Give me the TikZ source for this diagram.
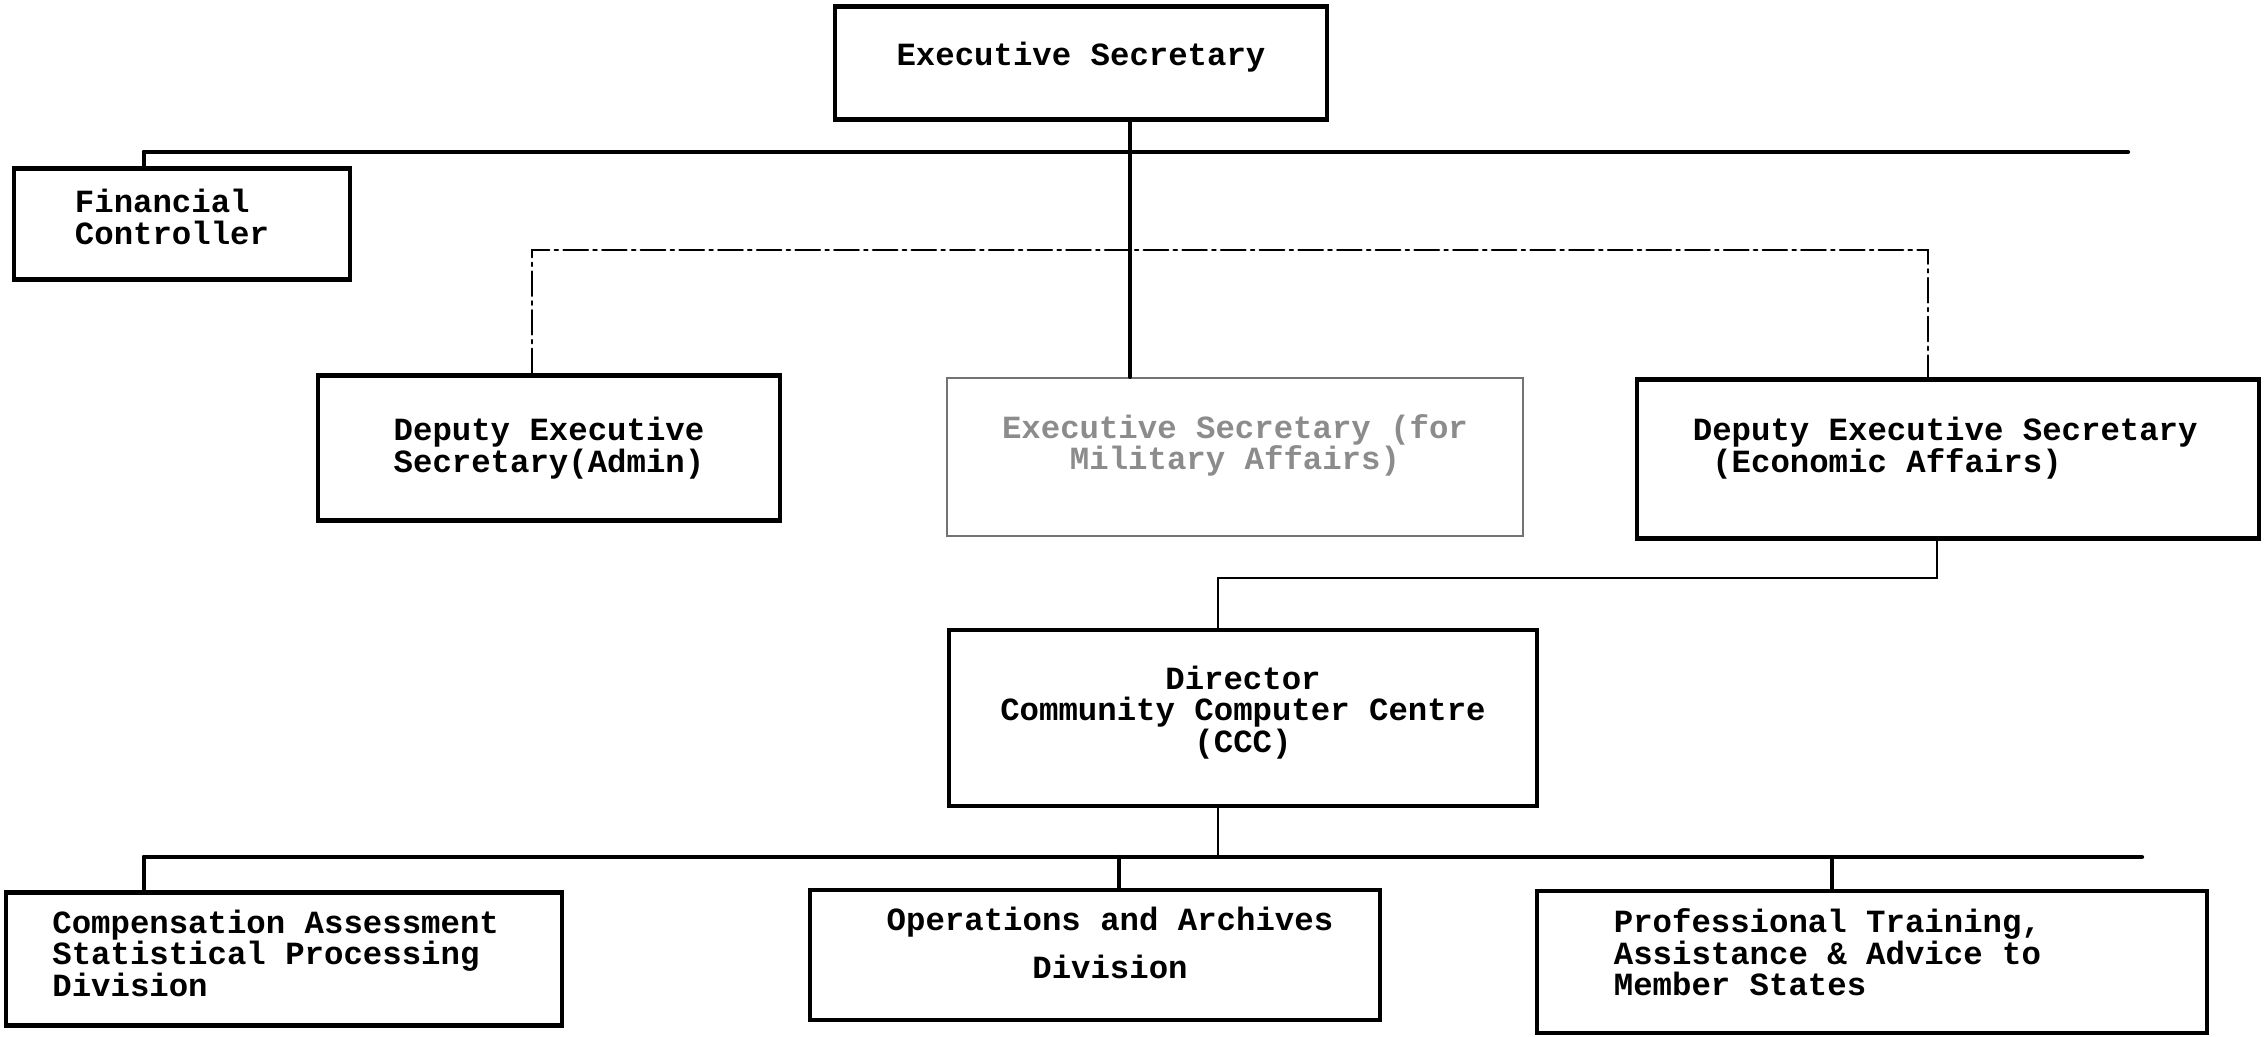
\documentclass[tikz,border=0pt]{standalone}
\usepackage{fontspec}
\setmonofont{Liberation Mono}[WordSpace={1,0,0}]
\usetikzlibrary{positioning}

\begin{document}
\begin{tikzpicture}[x=0.01cm, y=-0.01cm, line cap=round,
  unit/.style={rectangle,draw,line width=1.2pt,inner sep=0pt,align=center},
  faint unit/.style={rectangle,draw=black!55,line width=0.6pt,inner sep=0pt,align=center,text=black!45},
  bar/.style={line width=1.2pt},
  link/.style={line width=0.8pt},
  dotlink/.style={line width=0.6pt,dash pattern=on 7pt off 1.5pt on 1pt off 1.5pt}]
\useasboundingbox (0,0) rectangle (2265,1037);
\begin{scope}[every node/.style={font=\ttfamily\bfseries\fontsize{9.2}{9.0}\selectfont}]
\node [unit, minimum width=4.92cm, minimum height=1.13cm, text depth=0.18cm](es) at (1081,63) {Executive Secretary};
\node [unit, minimum width=3.36cm, minimum height=1.11cm, text width=2.14cm, align=flush left, text depth=0.46cm](fc) at (182,224) {Financial\\Controller};
\node [unit, minimum width=4.62cm, minimum height=1.45cm](dadmin) at (549,448) {Deputy Executive\\Secretary(Admin)};
\node [faint unit, minimum width=5.75cm, minimum height=1.58cm, text depth=0.3cm](esmil) at (1235,457) {Executive Secretary (for\\Military Affairs)};
\node [unit, minimum width=6.21cm, minimum height=1.59cm, text width=5.1cm, align=flush left, text depth=0.6cm](decon) at (1948,459) {Deputy Executive Secretary\\\hspace*{0.6em}(Economic Affairs)};
\node [unit, minimum width=5.88cm, minimum height=1.76cm, text depth=0.18cm](ccc) at (1243,718) {Director\\Community Computer Centre\\(CCC)};
\node [unit, minimum width=5.55cm, minimum height=1.33cm, text width=4.63cm, align=flush left, text depth=0.75cm](cas) at (284,959) {Compensation Assessment\\Statistical Processing\\Division};
\node [unit, minimum width=5.70cm, minimum height=1.30cm, text depth=0.24cm](ops) at (1095,955) {\hspace*{0.3cm}Operations and Archives\\[4.7pt]\hspace*{0.3cm}Division};
\node [unit, minimum width=6.70cm, minimum height=1.42cm, text width=5.16cm, align=flush left, text depth=0.83cm](prof) at (1872,962) {Professional Training,\\Assistance \& Advice to\\Member States};
\end{scope}
% junctions
\coordinate (bus1l) at (144,152);
\coordinate (bus1r) at (2128,152);
\coordinate (spine) at (1130,250);
\coordinate (dotl) at (532,250);
\coordinate (dotr) at (1928,250);
\coordinate (turn) at (1937,578);
\coordinate (bend) at (1218,578);
\coordinate (bus2l) at (144,857);
\coordinate (bus2r) at (2142,857);
\coordinate (t2) at (1119,857);
\coordinate (t3) at (1832,857);
\draw[bar] (bus1l) -- (bus1r);
\draw[bar] (bus1l) -- (bus1l |- fc.north);
\draw[bar] (es.south -| spine) -- (esmil.north -| spine);
\draw[dotlink] (dadmin.north -| dotl) -- (dotl) -- (dotr) -- (decon.north -| dotr);
\draw[link] (decon.south -| turn) -- (turn) -- (bend) -- (ccc.north -| bend);
\draw[link] (ccc.south -| bend) -- (bend |- bus2l);
\draw[bar] (bus2l) -- (bus2r);
\foreach \t/\b in {bus2l/cas,t2/ops,t3/prof}
  \draw[bar] (\t) -- (\t |- \b.north);
\end{tikzpicture}
\end{document}
